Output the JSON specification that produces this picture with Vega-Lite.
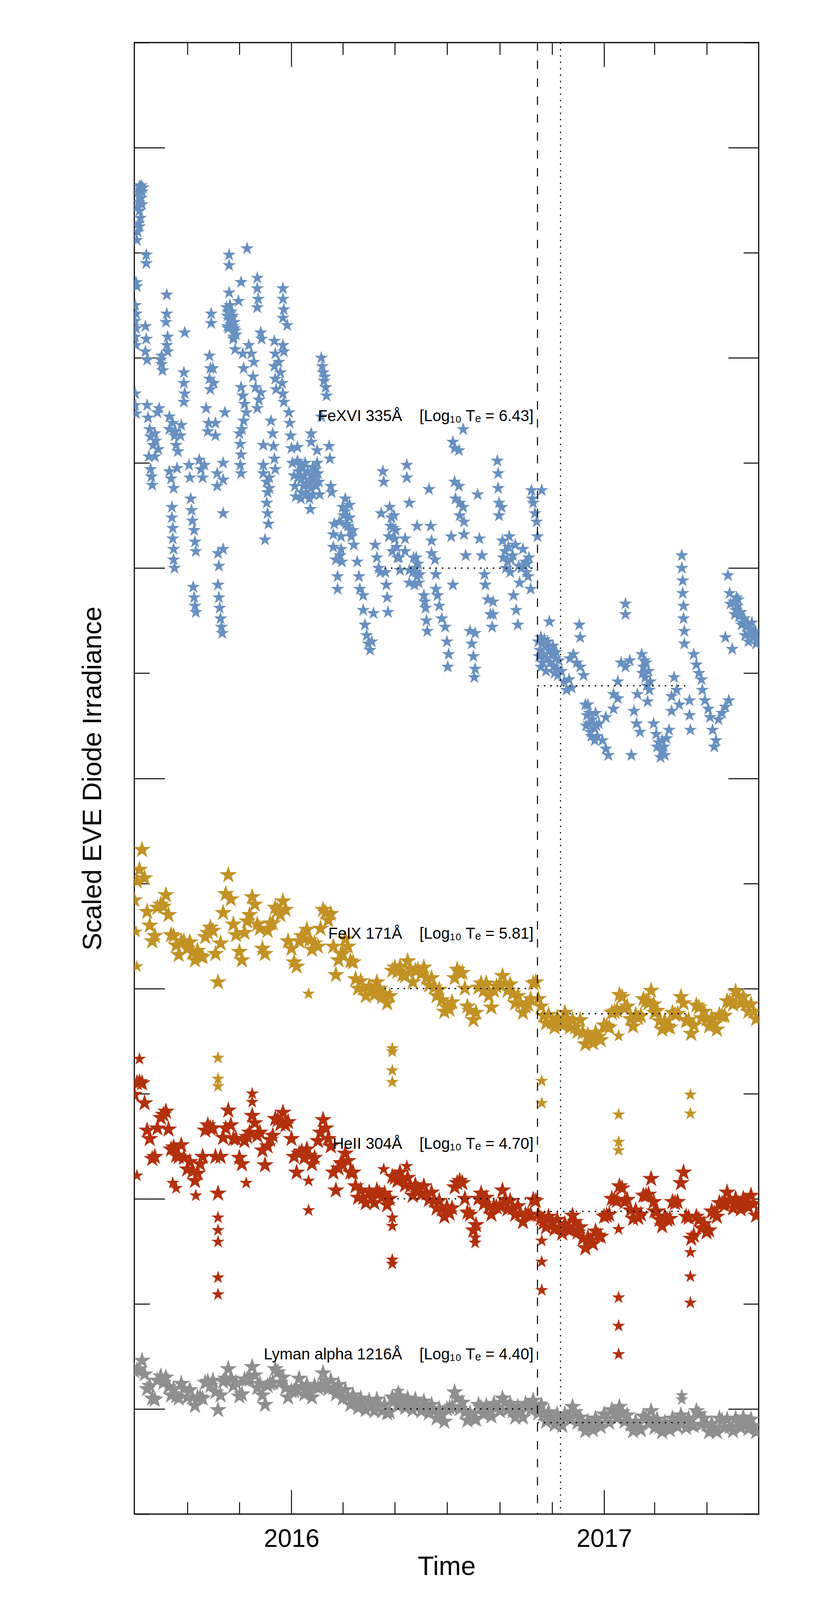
{
  "$schema": "https://vega.github.io/schema/vega-lite/v6.json",
  "width": 1599,
  "height": 3767,
  "autosize": {"type": "none"},
  "padding": {"left": 344, "top": 109, "right": 105, "bottom": 220},
  "background": "white",
  "config": {
    "font": "Liberation Sans",
    "view": {"stroke": "black", "strokeWidth": 2.9},
    "axis": {"domain": false, "grid": false, "labels": false, "tickColor": "black", "tickWidth": 2.4}
  },
  "datasets": {
    "fe16": [
      {"d":"2015-07-07","v":12.63},{"d":"2015-07-08","v":12.60},{"d":"2015-07-09","v":12.64},{"d":"2015-07-10","v":12.58},{"d":"2015-07-11","v":12.62},
      {"d":"2015-07-07","v":12.55},{"d":"2015-07-06","v":12.48},{"d":"2015-07-07","v":12.40},{"d":"2015-07-05","v":12.44},{"d":"2015-07-08","v":12.33},
      {"d":"2015-07-06","v":12.28},{"d":"2015-07-05","v":12.20},{"d":"2015-07-04","v":12.12},{"d":"2015-07-15","v":11.98},{"d":"2015-07-15","v":11.90},
      {"d":"2015-07-06","v":12.58},{"d":"2015-07-09","v":12.52},{"d":"2015-07-10","v":12.46},{"d":"2015-07-07","v":12.25},
      {"d":"2015-07-03","v":11.72},{"d":"2015-07-04","v":11.68},{"d":"2015-07-02","v":11.50},{"d":"2015-07-03","v":11.42},{"d":"2015-07-02","v":11.35},
      {"d":"2015-07-03","v":11.28},{"d":"2015-07-02","v":11.20},{"d":"2015-07-03","v":11.12},{"d":"2015-07-14","v":11.30},{"d":"2015-07-15","v":11.18},
      {"d":"2015-07-14","v":11.06},{"d":"2015-07-16","v":10.98},{"d":"2015-07-02","v":10.66},{"d":"2015-07-02","v":10.55},{"d":"2015-07-03","v":10.47},
      {"d":"2015-07-16","v":10.55},{"d":"2015-07-17","v":10.43},{"d":"2015-07-19","v":10.32},{"d":"2015-07-20","v":10.25},{"d":"2015-07-23","v":10.17},
      {"d":"2015-07-25","v":10.28},{"d":"2015-07-26","v":10.21},{"d":"2015-07-28","v":10.48},{"d":"2015-07-30","v":10.52},{"d":"2015-07-20","v":9.94},
      {"d":"2015-07-21","v":9.87},{"d":"2015-07-22","v":9.79},{"d":"2015-07-18","v":10.06},{"d":"2015-07-25","v":10.06},{"d":"2015-07-29","v":10.13},
      {"d":"2015-08-02","v":11.02},{"d":"2015-08-02","v":10.94},{"d":"2015-08-03","v":10.88},{"d":"2015-08-01","v":10.98},{"d":"2015-08-08","v":11.60},
      {"d":"2015-08-08","v":11.42},{"d":"2015-08-07","v":11.34},{"d":"2015-08-09","v":11.20},{"d":"2015-08-08","v":11.12},{"d":"2015-08-09","v":11.06},
      {"d":"2015-08-11","v":10.44},{"d":"2015-08-11","v":10.32},{"d":"2015-08-15","v":10.38},{"d":"2015-08-17","v":10.26},{"d":"2015-08-19","v":10.17},
      {"d":"2015-08-21","v":10.11},{"d":"2015-08-18","v":10.30},{"d":"2015-08-11","v":9.92},{"d":"2015-08-13","v":9.85},{"d":"2015-08-16","v":9.76},
      {"d":"2015-08-14","v":9.58},{"d":"2015-08-14","v":9.48},{"d":"2015-08-15","v":9.38},{"d":"2015-08-15","v":9.28},{"d":"2015-08-16","v":9.18},
      {"d":"2015-08-16","v":9.08},{"d":"2015-08-17","v":9.00},{"d":"2015-08-20","v":9.95},
      {"d":"2015-08-28","v":10.86},{"d":"2015-08-28","v":10.76},{"d":"2015-08-29","v":10.66},{"d":"2015-08-28","v":10.58},{"d":"2015-08-25","v":10.36},
      {"d":"2015-08-24","v":10.26},{"d":"2015-08-29","v":11.24},{"d":"2015-09-03","v":9.98},{"d":"2015-09-04","v":9.86},{"d":"2015-09-05","v":9.66},
      {"d":"2015-09-06","v":9.55},{"d":"2015-09-07","v":9.45},{"d":"2015-09-09","v":9.36},{"d":"2015-09-10","v":9.25},{"d":"2015-09-11","v":9.16},
      {"d":"2015-09-08","v":8.82},{"d":"2015-09-09","v":8.72},{"d":"2015-09-10","v":8.64},{"d":"2015-09-11","v":8.58},
      {"d":"2015-09-15","v":10.03},{"d":"2015-09-17","v":9.94},{"d":"2015-09-19","v":9.86},{"d":"2015-09-21","v":9.98},{"d":"2015-09-23","v":10.52},
      {"d":"2015-09-26","v":10.38},{"d":"2015-09-25","v":10.30},{"d":"2015-09-29","v":11.42},{"d":"2015-09-29","v":11.33},{"d":"2015-09-27","v":11.02},
      {"d":"2015-09-28","v":10.90},{"d":"2015-09-27","v":10.80},{"d":"2015-09-28","v":10.70},{"d":"2015-10-01","v":10.90},{"d":"2015-10-02","v":10.76},
      {"d":"2015-10-04","v":10.38},{"d":"2015-10-04","v":10.26},{"d":"2015-10-06","v":9.90},{"d":"2015-10-06","v":9.78},{"d":"2015-10-07","v":9.14},
      {"d":"2015-10-08","v":9.02},{"d":"2015-10-07","v":8.84},{"d":"2015-10-08","v":8.72},{"d":"2015-10-09","v":8.62},{"d":"2015-10-10","v":8.52},
      {"d":"2015-10-11","v":8.44},{"d":"2015-10-12","v":8.38},{"d":"2015-10-13","v":9.52},{"d":"2015-10-13","v":10.00},{"d":"2015-10-13","v":9.84},
      {"d":"2015-10-15","v":10.48},{"d":"2015-10-13","v":9.18},
      {"d":"2015-10-17","v":11.48},{"d":"2015-10-18","v":11.40},{"d":"2015-10-19","v":11.44},{"d":"2015-10-20","v":11.36},{"d":"2015-10-21","v":11.42},
      {"d":"2015-10-22","v":11.32},{"d":"2015-10-23","v":11.38},{"d":"2015-10-24","v":11.30},{"d":"2015-10-26","v":11.34},{"d":"2015-10-27","v":11.26},
      {"d":"2015-10-28","v":11.22},{"d":"2015-10-19","v":11.28},{"d":"2015-10-25","v":11.20},{"d":"2015-10-20","v":11.98},{"d":"2015-10-20","v":11.88},
      {"d":"2015-10-18","v":11.30},{"d":"2015-10-22","v":11.44},{"d":"2015-10-24","v":11.40},{"d":"2015-10-26","v":11.28},{"d":"2015-10-21","v":11.50},
      {"d":"2015-10-20","v":11.62},{"d":"2015-10-25","v":11.18},{"d":"2015-10-27","v":11.08},{"d":"2015-10-31","v":11.54},{"d":"2015-11-03","v":11.72},
      {"d":"2015-11-10","v":12.04},{"d":"2015-11-03","v":10.72},{"d":"2015-11-05","v":10.64},{"d":"2015-11-07","v":10.56},{"d":"2015-11-09","v":10.48},
      {"d":"2015-11-06","v":10.40},{"d":"2015-11-04","v":10.32},{"d":"2015-11-01","v":10.28},{"d":"2015-11-02","v":10.18},{"d":"2015-11-03","v":10.08},
      {"d":"2015-11-02","v":9.98},{"d":"2015-11-03","v":9.90},{"d":"2015-11-05","v":11.04},{"d":"2015-11-06","v":10.90},{"d":"2015-11-12","v":11.12},
      {"d":"2015-11-15","v":11.04},{"d":"2015-11-18","v":10.96},{"d":"2015-11-17","v":10.82},{"d":"2015-11-20","v":10.72},{"d":"2015-11-24","v":10.60},
      {"d":"2015-11-22","v":10.52},{"d":"2015-11-22","v":11.76},{"d":"2015-11-22","v":11.66},{"d":"2015-11-23","v":11.56},{"d":"2015-11-22","v":11.48},
      {"d":"2015-11-26","v":11.24},{"d":"2015-11-27","v":11.18},{"d":"2015-11-26","v":10.67},{"d":"2015-11-29","v":10.17},{"d":"2015-11-29","v":9.98},
      {"d":"2015-11-29","v":9.90},{"d":"2015-12-03","v":9.82},{"d":"2015-12-04","v":9.72},{"d":"2015-12-03","v":9.62},{"d":"2015-12-04","v":9.52},
      {"d":"2015-12-05","v":9.42},{"d":"2015-12-01","v":9.27},{"d":"2015-12-06","v":9.86},{"d":"2015-12-06","v":9.76},
      {"d":"2015-12-08","v":10.40},{"d":"2015-12-10","v":10.28},{"d":"2015-12-11","v":10.16},{"d":"2015-12-12","v":10.04},{"d":"2015-12-13","v":9.94},
      {"d":"2015-12-12","v":11.16},{"d":"2015-12-13","v":11.04},{"d":"2015-12-12","v":10.92},{"d":"2015-12-13","v":10.80},{"d":"2015-12-14","v":10.70},
      {"d":"2015-12-17","v":10.96},{"d":"2015-12-19","v":10.86},{"d":"2015-12-21","v":10.76},{"d":"2015-12-22","v":10.66},{"d":"2015-12-23","v":10.58},
      {"d":"2015-12-22","v":11.66},{"d":"2015-12-22","v":11.56},{"d":"2015-12-23","v":11.46},{"d":"2015-12-22","v":11.38},{"d":"2015-12-27","v":11.31},
      {"d":"2015-12-22","v":11.12},{"d":"2015-12-23","v":11.06},
      {"d":"2015-12-29","v":10.48},{"d":"2015-12-30","v":10.38},{"d":"2015-12-31","v":10.26},{"d":"2016-01-01","v":10.14},{"d":"2016-01-02","v":10.00},
      {"d":"2016-01-04","v":9.88},{"d":"2016-01-05","v":9.78},{"d":"2016-01-06","v":9.68},{"d":"2016-01-08","v":10.02},{"d":"2016-01-10","v":9.92},
      {"d":"2016-01-12","v":9.84},{"d":"2016-01-14","v":9.96},{"d":"2016-01-16","v":9.88},{"d":"2016-01-18","v":9.80},{"d":"2016-01-20","v":9.92},
      {"d":"2016-01-22","v":9.84},{"d":"2016-01-24","v":9.76},{"d":"2016-01-26","v":9.96},{"d":"2016-01-28","v":9.86},{"d":"2016-01-30","v":9.78},
      {"d":"2016-01-09","v":9.86},{"d":"2016-01-11","v":9.98},{"d":"2016-01-15","v":9.78},{"d":"2016-01-17","v":10.00},{"d":"2016-01-21","v":9.78},
      {"d":"2016-01-25","v":9.88},{"d":"2016-01-27","v":9.80},{"d":"2016-01-29","v":9.94},{"d":"2016-01-12","v":9.66},{"d":"2016-01-26","v":9.70},
      {"d":"2016-02-01","v":9.90},{"d":"2016-01-13","v":9.72},{"d":"2016-01-19","v":9.70},{"d":"2016-01-08","v":10.15},{"d":"2016-01-22","v":9.66},
      {"d":"2016-01-23","v":9.56},{"d":"2016-01-24","v":10.28},{"d":"2016-01-24","v":10.20},{"d":"2016-01-31","v":10.12},{"d":"2016-01-31","v":10.00},
      {"d":"2016-02-02","v":9.82},{"d":"2016-02-03","v":9.70},{"d":"2016-02-05","v":11.00},{"d":"2016-02-06","v":10.92},{"d":"2016-02-09","v":10.82},
      {"d":"2016-02-10","v":10.72},{"d":"2016-02-11","v":10.64},{"d":"2016-02-05","v":10.44},{"d":"2016-02-14","v":10.16},{"d":"2016-02-15","v":10.04},
      {"d":"2016-02-16","v":9.78},{"d":"2016-02-17","v":9.72},{"d":"2016-02-07","v":10.86},{"d":"2016-02-08","v":10.78},
      {"d":"2016-02-19","v":9.32},{"d":"2016-02-19","v":9.20},{"d":"2016-02-24","v":8.92},{"d":"2016-02-24","v":8.80},{"d":"2016-02-28","v":9.30},
      {"d":"2016-02-28","v":9.18},{"d":"2016-02-29","v":9.06},{"d":"2016-03-04","v":9.66},{"d":"2016-03-04","v":9.54},{"d":"2016-03-09","v":9.60},
      {"d":"2016-03-09","v":9.48},{"d":"2016-03-10","v":9.36},{"d":"2016-03-13","v":9.36},{"d":"2016-03-14","v":9.22},{"d":"2016-03-18","v":9.06},
      {"d":"2016-03-20","v":8.92},{"d":"2016-03-21","v":8.80},{"d":"2016-03-25","v":8.74},{"d":"2016-03-25","v":8.60},{"d":"2016-03-27","v":8.46},
      {"d":"2016-03-29","v":8.36},{"d":"2016-03-31","v":8.28},{"d":"2016-04-02","v":8.22},{"d":"2016-04-04","v":8.30},{"d":"2016-04-06","v":8.57},
      {"d":"2016-02-26","v":9.44},{"d":"2016-03-02","v":9.50},{"d":"2016-03-07","v":9.40},
      {"d":"2016-02-20","v":9.42},{"d":"2016-02-22","v":9.08},{"d":"2016-02-27","v":9.12},{"d":"2016-03-01","v":9.58},{"d":"2016-03-05","v":9.42},{"d":"2016-03-11","v":9.30},
      {"d":"2016-04-08","v":9.22},{"d":"2016-04-10","v":9.10},{"d":"2016-04-12","v":9.00},{"d":"2016-04-14","v":8.96},{"d":"2016-04-15","v":9.52},
      {"d":"2016-04-17","v":9.92},{"d":"2016-04-18","v":9.82},{"d":"2016-04-20","v":8.96},{"d":"2016-04-21","v":8.84},{"d":"2016-04-22","v":8.72},
      {"d":"2016-04-23","v":8.58},{"d":"2016-04-25","v":9.58},{"d":"2016-04-27","v":9.48},{"d":"2016-04-29","v":9.38},{"d":"2016-05-01","v":9.28},
      {"d":"2016-05-03","v":9.20},{"d":"2016-04-28","v":9.16},{"d":"2016-05-06","v":9.10},{"d":"2016-05-07","v":8.98},{"d":"2016-05-13","v":9.28},
      {"d":"2016-04-26","v":9.40},{"d":"2016-04-30","v":9.50},{"d":"2016-05-02","v":9.36},{"d":"2016-04-24","v":9.30},{"d":"2016-05-04","v":9.10},
      {"d":"2016-05-13","v":9.16},{"d":"2016-05-15","v":9.98},{"d":"2016-05-15","v":9.86},{"d":"2016-05-18","v":9.62},{"d":"2016-05-18","v":8.98},
      {"d":"2016-05-18","v":8.86},
      {"d":"2016-05-23","v":9.10},{"d":"2016-05-25","v":9.00},{"d":"2016-05-27","v":8.92},{"d":"2016-05-29","v":8.86},{"d":"2016-05-24","v":8.84},
      {"d":"2016-05-22","v":8.96},{"d":"2016-05-26","v":8.96},{"d":"2016-05-30","v":8.94},{"d":"2016-05-26","v":9.10},{"d":"2016-06-05","v":8.68},
      {"d":"2016-05-28","v":9.04},{"d":"2016-05-27","v":9.40},{"d":"2016-06-04","v":8.74},{"d":"2016-06-06","v":8.62},{"d":"2016-06-07","v":8.50},
      {"d":"2016-06-08","v":8.40},{"d":"2016-06-10","v":9.75},{"d":"2016-06-12","v":9.40},{"d":"2016-06-13","v":9.26},{"d":"2016-06-13","v":9.14},
      {"d":"2016-06-17","v":9.08},{"d":"2016-06-18","v":8.94},{"d":"2016-06-18","v":8.80},{"d":"2016-06-20","v":8.74},{"d":"2016-06-22","v":8.64},
      {"d":"2016-06-25","v":8.52},{"d":"2016-06-29","v":8.44},{"d":"2016-07-01","v":8.30},{"d":"2016-07-03","v":8.18},{"d":"2016-07-02","v":8.06},
      {"d":"2016-07-06","v":9.30},{"d":"2016-07-08","v":8.84},
      {"d":"2016-07-08","v":10.20},{"d":"2016-07-10","v":10.14},{"d":"2016-07-15","v":10.12},{"d":"2016-07-20","v":10.32},{"d":"2016-07-10","v":9.82},
      {"d":"2016-07-11","v":9.66},{"d":"2016-07-15","v":9.78},{"d":"2016-07-16","v":9.62},{"d":"2016-07-16","v":9.50},{"d":"2016-07-20","v":9.58},
      {"d":"2016-07-21","v":9.44},{"d":"2016-07-21","v":9.32},{"d":"2016-07-23","v":9.12},{"d":"2016-07-28","v":8.40},{"d":"2016-07-30","v":8.28},
      {"d":"2016-08-01","v":8.16},{"d":"2016-08-03","v":8.04},{"d":"2016-08-02","v":7.96},{"d":"2016-08-03","v":8.38},{"d":"2016-08-06","v":9.70},
      {"d":"2016-08-08","v":9.28},{"d":"2016-08-11","v":9.12},{"d":"2016-08-14","v":8.94},{"d":"2016-08-15","v":8.84},{"d":"2016-08-18","v":8.70},
      {"d":"2016-08-21","v":8.56},{"d":"2016-08-23","v":8.44},{"d":"2016-08-24","v":8.68},{"d":"2016-08-24","v":8.56},{"d":"2016-08-29","v":10.02},
      {"d":"2016-08-30","v":9.90},{"d":"2016-08-30","v":9.76},{"d":"2016-08-31","v":9.62},{"d":"2016-08-31","v":9.50},{"d":"2016-09-03","v":9.58},
      {"d":"2016-09-04","v":9.26},{"d":"2016-09-07","v":9.16},{"d":"2016-09-10","v":9.06},{"d":"2016-09-13","v":8.96},{"d":"2016-09-16","v":9.12},
      {"d":"2016-09-19","v":9.22},{"d":"2016-09-12","v":9.30},{"d":"2016-09-17","v":8.74},{"d":"2016-09-20","v":8.60},{"d":"2016-09-22","v":8.46},
      {"d":"2016-09-23","v":9.02},{"d":"2016-09-24","v":8.86},{"d":"2016-09-28","v":9.18},{"d":"2016-10-01","v":9.06},{"d":"2016-10-04","v":8.92},
      {"d":"2016-10-07","v":8.80},{"d":"2016-10-08","v":9.74},{"d":"2016-10-10","v":9.62},{"d":"2016-10-12","v":9.52},{"d":"2016-10-14","v":9.44},
      {"d":"2016-09-05","v":9.10},{"d":"2016-09-08","v":9.00},{"d":"2016-09-11","v":9.20},{"d":"2016-09-14","v":9.08},{"d":"2016-09-29","v":9.02},
      {"d":"2016-10-02","v":8.96},{"d":"2016-10-05","v":9.10},{"d":"2016-10-09","v":9.66},
      {"d":"2016-10-20","v":9.74},{"d":"2016-10-15","v":9.30},{"d":"2016-09-26","v":9.00},{"d":"2016-10-03","v":9.04},
      {"d":"2016-10-16","v":8.30},{"d":"2016-10-18","v":8.22},{"d":"2016-10-20","v":8.28},{"d":"2016-10-22","v":8.18},{"d":"2016-10-24","v":8.26},
      {"d":"2016-10-26","v":8.14},{"d":"2016-10-28","v":8.22},{"d":"2016-10-30","v":8.10},{"d":"2016-11-01","v":8.18},{"d":"2016-11-03","v":8.06},
      {"d":"2016-11-05","v":8.14},{"d":"2016-11-07","v":8.04},{"d":"2016-11-09","v":8.12},{"d":"2016-10-19","v":8.06},{"d":"2016-10-25","v":8.02},
      {"d":"2016-10-17","v":8.16},{"d":"2016-10-19","v":8.34},{"d":"2016-10-21","v":8.10},{"d":"2016-10-23","v":8.32},{"d":"2016-10-27","v":8.30},
      {"d":"2016-10-31","v":8.22},{"d":"2016-11-02","v":8.26},{"d":"2016-11-04","v":8.00},{"d":"2016-11-06","v":8.20},{"d":"2016-11-08","v":7.98},
      {"d":"2016-10-29","v":8.49},{"d":"2016-11-12","v":8.02},{"d":"2016-11-15","v":7.92},{"d":"2016-11-18","v":7.84},{"d":"2016-11-21","v":7.94},
      {"d":"2016-11-24","v":7.86},{"d":"2016-11-22","v":8.14},{"d":"2016-11-26","v":8.18},{"d":"2016-11-30","v":8.10},{"d":"2016-12-04","v":8.06},
      {"d":"2016-12-03","v":8.46},{"d":"2016-12-04","v":8.34},{"d":"2016-12-08","v":7.98},{"d":"2016-12-10","v":7.70},{"d":"2016-12-12","v":7.60},
      {"d":"2016-12-14","v":7.52},{"d":"2016-12-16","v":7.44},{"d":"2016-12-18","v":7.56},{"d":"2016-12-20","v":7.48},{"d":"2016-12-22","v":7.62},
      {"d":"2016-12-24","v":7.40},{"d":"2016-12-26","v":7.52},{"d":"2016-12-30","v":7.36},{"d":"2017-01-03","v":7.28},{"d":"2017-01-06","v":7.22},
      {"d":"2016-12-11","v":7.50},{"d":"2016-12-13","v":7.70},{"d":"2016-12-15","v":7.62},{"d":"2016-12-17","v":7.40},{"d":"2016-12-21","v":7.36},{"d":"2016-12-23","v":7.50},
      {"d":"2017-01-03","v":7.58},{"d":"2017-01-12","v":7.80},{"d":"2017-01-12","v":7.66},{"d":"2017-01-17","v":7.92},{"d":"2017-01-17","v":7.76},
      {"d":"2017-01-21","v":8.10},{"d":"2017-01-26","v":8.06},{"d":"2017-01-31","v":8.12},{"d":"2017-01-26","v":8.66},{"d":"2017-01-26","v":8.56},
      {"d":"2017-02-02","v":7.22},{"d":"2017-02-05","v":7.64},{"d":"2017-02-08","v":7.52},{"d":"2017-02-12","v":7.44},{"d":"2017-02-14","v":8.18},
      {"d":"2017-02-16","v":8.06},{"d":"2017-02-18","v":7.96},{"d":"2017-02-20","v":7.88},{"d":"2017-02-22","v":8.02},{"d":"2017-02-24","v":7.92},
      {"d":"2017-02-17","v":8.12},{"d":"2017-02-09","v":7.80},{"d":"2017-02-21","v":7.73},{"d":"2017-02-28","v":7.52},{"d":"2017-03-03","v":7.42},
      {"d":"2017-02-15","v":8.00},{"d":"2017-02-19","v":8.10},{"d":"2017-02-23","v":7.84},{"d":"2017-03-04","v":7.30},{"d":"2017-03-10","v":7.36},{"d":"2017-03-13","v":7.22},
      {"d":"2017-03-06","v":7.34},{"d":"2017-03-09","v":7.26},{"d":"2017-03-12","v":7.30},{"d":"2017-03-15","v":7.38},{"d":"2017-03-18","v":7.46},
      {"d":"2017-03-08","v":7.20},{"d":"2017-03-21","v":7.78},{"d":"2017-03-21","v":7.64},{"d":"2017-03-24","v":7.96},{"d":"2017-03-27","v":7.84},
      {"d":"2017-03-30","v":7.70},{"d":"2017-04-02","v":9.12},{"d":"2017-04-02","v":9.00},{"d":"2017-04-03","v":8.88},{"d":"2017-04-03","v":8.76},
      {"d":"2017-04-04","v":8.64},{"d":"2017-04-04","v":8.52},{"d":"2017-04-05","v":8.40},{"d":"2017-04-05","v":8.28},{"d":"2017-04-11","v":7.74},
      {"d":"2017-04-11","v":7.60},{"d":"2017-04-12","v":7.46},{"d":"2017-04-16","v":8.18},{"d":"2017-04-19","v":8.08},{"d":"2017-04-22","v":8.00},
      {"d":"2017-04-25","v":7.94},{"d":"2017-04-26","v":7.84},{"d":"2017-04-29","v":7.74},{"d":"2017-05-03","v":7.66},{"d":"2017-05-05","v":7.58},
      {"d":"2017-05-08","v":7.46},{"d":"2017-05-12","v":7.36},{"d":"2017-05-10","v":7.30},{"d":"2017-05-15","v":7.56},{"d":"2017-05-19","v":7.62},
      {"d":"2017-05-23","v":7.68},{"d":"2017-05-27","v":7.74},{"d":"2017-05-26","v":8.93},{"d":"2017-05-23","v":8.34},{"d":"2017-05-28","v":8.76},
      {"d":"2017-05-29","v":8.66},{"d":"2017-05-31","v":8.23},{"d":"2017-06-02","v":8.68},{"d":"2017-06-04","v":8.60},{"d":"2017-06-06","v":8.64},
      {"d":"2017-06-08","v":8.54},{"d":"2017-06-10","v":8.58},{"d":"2017-06-12","v":8.48},{"d":"2017-06-14","v":8.52},{"d":"2017-06-16","v":8.44},
      {"d":"2017-06-18","v":8.48},{"d":"2017-06-20","v":8.38},{"d":"2017-06-22","v":8.42},{"d":"2017-06-24","v":8.34},{"d":"2017-06-26","v":8.38},
      {"d":"2017-06-28","v":8.28},{"d":"2017-06-30","v":8.32},{"d":"2017-06-05","v":8.72},{"d":"2017-06-15","v":8.36},
      {"d":"2017-06-03","v":8.56},{"d":"2017-06-07","v":8.70},{"d":"2017-06-11","v":8.46},{"d":"2017-06-19","v":8.30},{"d":"2017-06-23","v":8.48},{"d":"2017-06-27","v":8.40}
    ],
    "dense": [
      {"d":"2015-07-01","a":5.84,"b":3.99,"c":1.36},{"d":"2015-07-04","a":6.02,"b":4.10,"c":1.37},{"d":"2015-07-07","a":6.13,"b":4.11,"c":1.38},{"d":"2015-07-10","a":6.32,"b":4.10,"c":1.46},{"d":"2015-07-13","a":6.05,"b":3.91,"c":1.33},
      {"d":"2015-07-16","a":5.73,"b":3.65,"c":1.19},{"d":"2015-07-19","a":5.60,"b":3.57,"c":1.22},{"d":"2015-07-22","a":5.45,"b":3.38,"c":1.10},{"d":"2015-07-25","a":5.50,"b":3.40,"c":1.09},{"d":"2015-07-28","a":5.77,"b":3.67,"c":1.27},
      {"d":"2015-08-01","a":5.80,"b":3.77,"c":1.31},{"d":"2015-08-04","a":5.78,"b":3.80,"c":1.25},{"d":"2015-08-07","a":5.89,"b":3.83,"c":1.30},{"d":"2015-08-10","a":5.70,"b":3.66,"c":1.21},{"d":"2015-08-13","a":5.51,"b":3.47,"c":1.13},
      {"d":"2015-08-16","a":5.50,"b":3.49,"c":1.19},{"d":"2015-08-19","a":5.41,"b":3.41,"c":1.12},{"d":"2015-08-22","a":5.32,"b":3.40,"c":1.10},{"d":"2015-08-25","a":5.45,"b":3.51,"c":1.24},{"d":"2015-08-28","a":5.45,"b":3.39,"c":1.19},
      {"d":"2015-09-01","a":5.38,"b":3.28,"c":1.11},{"d":"2015-09-04","a":5.44,"b":3.35,"c":1.18},{"d":"2015-09-07","a":5.34,"b":3.26,"c":1.11},{"d":"2015-09-10","a":5.27,"b":3.17,"c":1.03},{"d":"2015-09-13","a":5.36,"b":3.24,"c":1.11},
      {"d":"2015-09-16","a":5.31,"b":3.33,"c":1.11},{"d":"2015-09-19","a":5.30,"b":3.40,"c":1.10},{"d":"2015-09-22","a":5.49,"b":3.65,"c":1.25},{"d":"2015-09-25","a":5.53,"b":3.70,"c":1.26},{"d":"2015-09-28","a":5.58,"b":3.67,"c":1.22},
      {"d":"2015-10-01","a":5.55,"b":3.67,"c":1.27},{"d":"2015-10-04","a":5.33,"b":3.40,"c":1.16},{"d":"2015-10-07","a":5.06,"b":3.05,"c":0.99},{"d":"2015-10-10","a":5.43,"b":3.40,"c":1.13},{"d":"2015-10-13","a":5.72,"b":3.58,"c":1.26},
      {"d":"2015-10-16","a":5.90,"b":3.67,"c":1.29},{"d":"2015-10-19","a":6.08,"b":3.84,"c":1.38},{"d":"2015-10-22","a":5.85,"b":3.70,"c":1.29},{"d":"2015-10-25","a":5.61,"b":3.57,"c":1.22},{"d":"2015-10-28","a":5.51,"b":3.57,"c":1.25},
      {"d":"2015-11-01","a":5.35,"b":3.39,"c":1.12},{"d":"2015-11-04","a":5.27,"b":3.33,"c":1.14},{"d":"2015-11-07","a":5.53,"b":3.55,"c":1.28},{"d":"2015-11-10","a":5.64,"b":3.59,"c":1.28},{"d":"2015-11-13","a":5.70,"b":3.63,"c":1.28},
      {"d":"2015-11-16","a":5.87,"b":3.79,"c":1.40},{"d":"2015-11-19","a":5.80,"b":3.72,"c":1.32},{"d":"2015-11-22","a":5.61,"b":3.60,"c":1.20},{"d":"2015-11-25","a":5.57,"b":3.63,"c":1.24},{"d":"2015-11-28","a":5.38,"b":3.46,"c":1.13},
      {"d":"2015-12-01","a":5.33,"b":3.32,"c":1.04},{"d":"2015-12-04","a":5.55,"b":3.50,"c":1.22},{"d":"2015-12-07","a":5.62,"b":3.56,"c":1.24},{"d":"2015-12-10","a":5.62,"b":3.60,"c":1.25},{"d":"2015-12-13","a":5.77,"b":3.76,"c":1.38},
      {"d":"2015-12-16","a":5.74,"b":3.75,"c":1.35},{"d":"2015-12-19","a":5.70,"b":3.71,"c":1.25},{"d":"2015-12-22","a":5.83,"b":3.82,"c":1.30},{"d":"2015-12-25","a":5.75,"b":3.70,"c":1.20},{"d":"2015-12-28","a":5.45,"b":3.73,"c":1.11},
      {"d":"2016-01-01","a":5.38,"b":3.57,"c":1.17},{"d":"2016-01-04","a":5.25,"b":3.40,"c":1.17},{"d":"2016-01-07","a":5.21,"b":3.25,"c":1.18},{"d":"2016-01-10","a":5.45,"b":3.43,"c":1.29},{"d":"2016-01-13","a":5.50,"b":3.45,"c":1.21},
      {"d":"2016-01-16","a":5.47,"b":3.39,"c":1.14},{"d":"2016-01-19","a":5.56,"b":3.47,"c":1.23},{"d":"2016-01-22","a":5.46,"b":3.41,"c":1.17},{"d":"2016-01-25","a":5.37,"b":3.33,"c":1.11},{"d":"2016-01-28","a":5.43,"b":3.39,"c":1.22},
      {"d":"2016-02-01","a":5.40,"b":3.55,"c":1.20},{"d":"2016-02-04","a":5.57,"b":3.63,"c":1.21},{"d":"2016-02-07","a":5.75,"b":3.75,"c":1.34},{"d":"2016-02-10","a":5.72,"b":3.67,"c":1.27},{"d":"2016-02-13","a":5.65,"b":3.57,"c":1.19},
      {"d":"2016-02-16","a":5.71,"b":3.50,"c":1.27},{"d":"2016-02-19","a":5.40,"b":3.25,"c":1.20},{"d":"2016-02-22","a":5.13,"b":3.08,"c":1.14},{"d":"2016-02-25","a":5.27,"b":3.29,"c":1.23},{"d":"2016-02-28","a":5.33,"b":3.34,"c":1.17},
      {"d":"2016-03-01","a":5.33,"b":3.32,"c":1.10},{"d":"2016-03-04","a":5.47,"b":3.43,"c":1.18},{"d":"2016-03-07","a":5.40,"b":3.36,"c":1.11},{"d":"2016-03-10","a":5.26,"b":3.25,"c":1.04},{"d":"2016-03-13","a":5.25,"b":3.25,"c":1.13},
      {"d":"2016-03-16","a":5.09,"b":3.12,"c":1.07},{"d":"2016-03-19","a":5.00,"b":3.01,"c":1.01},{"d":"2016-03-22","a":5.07,"b":3.08,"c":1.10},{"d":"2016-03-25","a":5.00,"b":3.01,"c":1.04},{"d":"2016-03-28","a":4.93,"b":2.96,"c":0.99},
      {"d":"2016-04-01","a":5.02,"b":3.06,"c":1.08},{"d":"2016-04-04","a":4.98,"b":3.01,"c":1.03},{"d":"2016-04-07","a":4.94,"b":2.96,"c":0.98},{"d":"2016-04-10","a":5.06,"b":3.08,"c":1.09},{"d":"2016-04-13","a":5.00,"b":3.05,"c":1.04},
      {"d":"2016-04-16","a":4.92,"b":3.01,"c":0.98},{"d":"2016-04-19","a":4.95,"b":3.05,"c":1.04},{"d":"2016-04-22","a":4.86,"b":2.94,"c":0.96},{"d":"2016-04-25","a":4.93,"b":3.00,"c":0.97},{"d":"2016-04-28","a":5.17,"b":3.21,"c":1.11},
      {"d":"2016-05-01","a":5.20,"b":3.20,"c":1.08},{"d":"2016-05-04","a":5.16,"b":3.17,"c":1.03},{"d":"2016-05-07","a":5.21,"b":3.25,"c":1.12},{"d":"2016-05-10","a":5.13,"b":3.19,"c":1.07},{"d":"2016-05-13","a":5.12,"b":3.13,"c":1.01},
      {"d":"2016-05-16","a":5.26,"b":3.20,"c":1.10},{"d":"2016-05-19","a":5.19,"b":3.12,"c":1.05},{"d":"2016-05-22","a":5.06,"b":3.03,"c":0.99},{"d":"2016-05-25","a":5.17,"b":3.13,"c":1.09},{"d":"2016-05-28","a":5.18,"b":3.09,"c":1.03},
      {"d":"2016-06-01","a":5.14,"b":3.04,"c":0.98},{"d":"2016-06-04","a":5.20,"b":3.12,"c":1.07},{"d":"2016-06-07","a":5.10,"b":3.05,"c":1.02},{"d":"2016-06-10","a":5.03,"b":2.99,"c":0.96},{"d":"2016-06-13","a":5.10,"b":3.06,"c":1.04},
      {"d":"2016-06-16","a":5.01,"b":2.98,"c":0.98},{"d":"2016-06-19","a":4.93,"b":2.91,"c":0.91},{"d":"2016-06-22","a":4.99,"b":2.98,"c":1.00},{"d":"2016-06-25","a":4.89,"b":2.90,"c":0.94},{"d":"2016-06-28","a":4.78,"b":2.83,"c":0.88},
      {"d":"2016-07-01","a":4.82,"b":2.92,"c":1.00},{"d":"2016-07-04","a":4.80,"b":2.86,"c":1.01},{"d":"2016-07-07","a":4.87,"b":2.91,"c":1.02},{"d":"2016-07-10","a":5.10,"b":3.11,"c":1.16},{"d":"2016-07-13","a":5.18,"b":3.15,"c":1.10},
      {"d":"2016-07-16","a":5.15,"b":3.17,"c":1.00},{"d":"2016-07-19","a":5.15,"b":3.15,"c":1.06},{"d":"2016-07-22","a":5.00,"b":3.00,"c":0.97},{"d":"2016-07-25","a":4.83,"b":2.87,"c":0.89},{"d":"2016-07-28","a":4.79,"b":2.85,"c":0.96},
      {"d":"2016-08-01","a":4.70,"b":2.70,"c":0.91},{"d":"2016-08-04","a":4.77,"b":2.75,"c":0.90},{"d":"2016-08-07","a":5.01,"b":3.00,"c":1.04},{"d":"2016-08-10","a":5.05,"b":3.05,"c":1.01},{"d":"2016-08-13","a":4.98,"b":2.95,"c":0.95},
      {"d":"2016-08-16","a":5.05,"b":3.01,"c":1.03},{"d":"2016-08-19","a":4.93,"b":2.92,"c":0.97},{"d":"2016-08-22","a":4.82,"b":2.85,"c":0.93},{"d":"2016-08-25","a":4.98,"b":2.93,"c":1.05},{"d":"2016-08-28","a":5.02,"b":2.92,"c":1.01},
      {"d":"2016-09-01","a":5.04,"b":2.93,"c":0.98},{"d":"2016-09-04","a":5.12,"b":3.08,"c":1.10},{"d":"2016-09-07","a":5.05,"b":2.99,"c":1.06},{"d":"2016-09-10","a":4.98,"b":2.90,"c":0.99},{"d":"2016-09-13","a":5.04,"b":2.98,"c":1.05},
      {"d":"2016-09-16","a":4.95,"b":2.91,"c":0.98},{"d":"2016-09-19","a":4.86,"b":2.85,"c":0.92},{"d":"2016-09-22","a":4.93,"b":2.93,"c":1.02},{"d":"2016-09-25","a":4.86,"b":2.86,"c":0.97},{"d":"2016-09-28","a":4.77,"b":2.78,"c":0.92},
      {"d":"2016-10-01","a":4.83,"b":2.85,"c":1.05},{"d":"2016-10-04","a":4.85,"b":2.85,"c":1.02},{"d":"2016-10-07","a":4.90,"b":2.85,"c":0.99},{"d":"2016-10-10","a":5.05,"b":2.99,"c":1.08},{"d":"2016-10-13","a":5.06,"b":2.98,"c":1.02},
      {"d":"2016-10-16","a":4.90,"b":2.85,"c":0.96},{"d":"2016-10-19","a":4.83,"b":2.81,"c":1.03},{"d":"2016-10-22","a":4.74,"b":2.77,"c":0.95},{"d":"2016-10-25","a":4.67,"b":2.73,"c":0.88},{"d":"2016-10-28","a":4.75,"b":2.83,"c":0.97},
      {"d":"2016-11-01","a":4.68,"b":2.77,"c":0.91},{"d":"2016-11-04","a":4.63,"b":2.71,"c":0.85},{"d":"2016-11-07","a":4.72,"b":2.80,"c":0.95},{"d":"2016-11-10","a":4.68,"b":2.73,"c":0.89},{"d":"2016-11-13","a":4.65,"b":2.67,"c":0.84},
      {"d":"2016-11-16","a":4.77,"b":2.76,"c":0.95},{"d":"2016-11-19","a":4.71,"b":2.71,"c":0.92},{"d":"2016-11-22","a":4.63,"b":2.70,"c":0.90},{"d":"2016-11-25","a":4.70,"b":2.84,"c":1.02},{"d":"2016-11-28","a":4.63,"b":2.78,"c":0.97},
      {"d":"2016-12-01","a":4.59,"b":2.68,"c":0.87},{"d":"2016-12-04","a":4.70,"b":2.73,"c":0.92},{"d":"2016-12-07","a":4.58,"b":2.62,"c":0.85},{"d":"2016-12-10","a":4.47,"b":2.53,"c":0.79},{"d":"2016-12-13","a":4.56,"b":2.63,"c":0.88},
      {"d":"2016-12-16","a":4.52,"b":2.60,"c":0.83},{"d":"2016-12-19","a":4.48,"b":2.57,"c":0.80},{"d":"2016-12-22","a":4.58,"b":2.69,"c":0.91},{"d":"2016-12-25","a":4.54,"b":2.65,"c":0.87},{"d":"2016-12-28","a":4.51,"b":2.64,"c":0.83},
      {"d":"2017-01-01","a":4.65,"b":2.83,"c":0.95},{"d":"2017-01-04","a":4.64,"b":2.84,"c":0.91},{"d":"2017-01-07","a":4.63,"b":2.85,"c":0.87},{"d":"2017-01-10","a":4.77,"b":3.00,"c":0.99},{"d":"2017-01-13","a":4.78,"b":2.99,"c":0.95},
      {"d":"2017-01-16","a":4.79,"b":2.98,"c":0.91},{"d":"2017-01-19","a":4.94,"b":3.12,"c":1.02},{"d":"2017-01-22","a":4.92,"b":3.10,"c":0.97},{"d":"2017-01-25","a":4.81,"b":2.97,"c":0.88},{"d":"2017-01-28","a":4.83,"b":2.99,"c":0.94},
      {"d":"2017-02-01","a":4.71,"b":2.89,"c":0.85},{"d":"2017-02-04","a":4.64,"b":2.81,"c":0.79},{"d":"2017-02-07","a":4.75,"b":2.89,"c":0.88},{"d":"2017-02-10","a":4.72,"b":2.82,"c":0.82},{"d":"2017-02-13","a":4.74,"b":2.85,"c":0.80},
      {"d":"2017-02-16","a":4.90,"b":3.03,"c":0.93},{"d":"2017-02-19","a":4.88,"b":3.03,"c":0.91},{"d":"2017-02-22","a":4.86,"b":3.04,"c":0.87},{"d":"2017-02-25","a":4.98,"b":3.19,"c":0.98},{"d":"2017-02-28","a":4.85,"b":2.97,"c":0.89},
      {"d":"2017-03-01","a":4.77,"b":2.88,"c":0.82},{"d":"2017-03-04","a":4.79,"b":2.88,"c":0.90},{"d":"2017-03-07","a":4.69,"b":2.80,"c":0.83},{"d":"2017-03-10","a":4.61,"b":2.74,"c":0.78},{"d":"2017-03-13","a":4.69,"b":2.83,"c":0.87},
      {"d":"2017-03-16","a":4.64,"b":2.80,"c":0.83},{"d":"2017-03-19","a":4.63,"b":2.81,"c":0.80},{"d":"2017-03-22","a":4.77,"b":2.97,"c":0.91},{"d":"2017-03-25","a":4.75,"b":2.96,"c":0.87},{"d":"2017-03-28","a":4.76,"b":2.97,"c":0.83},
      {"d":"2017-04-01","a":4.92,"b":3.15,"c":0.94},{"d":"2017-04-04","a":4.86,"b":3.25,"c":0.89},{"d":"2017-04-07","a":4.69,"b":2.83,"c":0.82},{"d":"2017-04-10","a":4.70,"b":2.82,"c":0.91},{"d":"2017-04-13","a":4.57,"b":2.62,"c":0.85},
      {"d":"2017-04-16","a":4.65,"b":2.65,"c":0.84},{"d":"2017-04-19","a":4.84,"b":2.83,"c":0.98},{"d":"2017-04-22","a":4.82,"b":2.80,"c":0.95},{"d":"2017-04-25","a":4.72,"b":2.72,"c":0.85},{"d":"2017-04-28","a":4.78,"b":2.76,"c":0.91},
      {"d":"2017-05-01","a":4.71,"b":2.68,"c":0.85},{"d":"2017-05-04","a":4.64,"b":2.70,"c":0.78},{"d":"2017-05-07","a":4.72,"b":2.88,"c":0.86},{"d":"2017-05-10","a":4.66,"b":2.86,"c":0.80},{"d":"2017-05-13","a":4.61,"b":2.83,"c":0.78},
      {"d":"2017-05-16","a":4.75,"b":2.96,"c":0.91},{"d":"2017-05-19","a":4.74,"b":2.95,"c":0.89},{"d":"2017-05-22","a":4.74,"b":2.94,"c":0.82},{"d":"2017-05-25","a":4.88,"b":3.06,"c":0.90},{"d":"2017-05-28","a":4.87,"b":2.99,"c":0.83},
      {"d":"2017-06-01","a":4.85,"b":2.91,"c":0.79},{"d":"2017-06-04","a":4.97,"b":3.00,"c":0.91},{"d":"2017-06-07","a":4.93,"b":2.95,"c":0.87},{"d":"2017-06-10","a":4.86,"b":2.90,"c":0.82},{"d":"2017-06-13","a":4.92,"b":3.00,"c":0.92},
      {"d":"2017-06-16","a":4.85,"b":2.96,"c":0.87},{"d":"2017-06-19","a":4.78,"b":2.92,"c":0.81},{"d":"2017-06-22","a":4.85,"b":3.03,"c":0.90},{"d":"2017-06-25","a":4.78,"b":2.95,"c":0.84},{"d":"2017-06-28","a":4.71,"b":2.84,"c":0.78}
    ],
    "spikes": [
      {"d":"2015-07-03","a":5.54},{"d":"2015-07-04","a":5.21},{"d":"2016-01-21","a":4.95},{"d":"2015-10-07","a":4.34},{"d":"2015-10-07","a":4.14},
      {"d":"2015-10-07","a":4.07},{"d":"2016-04-28","a":4.43},{"d":"2016-04-28","a":4.40},{"d":"2016-04-28","a":4.22},{"d":"2016-04-28","a":4.11},
      {"d":"2016-10-20","a":4.12},{"d":"2016-10-20","a":3.91},{"d":"2017-01-18","a":4.55},{"d":"2017-01-18","a":3.80},{"d":"2017-01-18","a":3.54},
      {"d":"2017-01-18","a":3.46},{"d":"2017-04-12","a":3.99},{"d":"2017-04-12","a":3.81},
      {"d":"2015-07-07","b":4.33},{"d":"2015-07-04","b":3.22},{"d":"2015-08-15","b":3.15},{"d":"2015-08-19","b":3.10},{"d":"2015-09-11","b":3.03},
      {"d":"2015-10-07","b":2.82},{"d":"2015-10-07","b":2.70},{"d":"2015-10-07","b":2.59},{"d":"2015-10-07","b":2.25},{"d":"2015-10-07","b":2.09},
      {"d":"2015-11-09","b":3.15},{"d":"2015-11-16","b":4.00},{"d":"2015-11-16","b":3.92},{"d":"2016-01-21","b":3.17},{"d":"2016-01-21","b":2.89},
      {"d":"2016-04-18","b":3.28},{"d":"2016-04-28","b":2.82},{"d":"2016-04-28","b":2.74},{"d":"2016-04-28","b":2.42},{"d":"2016-04-28","b":2.38},
      {"d":"2016-05-15","b":3.31},{"d":"2016-08-03","b":2.63},{"d":"2016-08-03","b":2.58},{"d":"2016-10-20","b":2.60},{"d":"2016-10-20","b":2.40},
      {"d":"2016-10-20","b":2.13},{"d":"2017-01-18","b":2.71},{"d":"2017-01-18","b":2.06},{"d":"2017-01-18","b":1.79},{"d":"2017-01-18","b":1.52},
      {"d":"2017-04-12","b":2.49},{"d":"2017-04-12","b":2.26},{"d":"2017-04-12","b":2.01},
      {"d":"2016-05-05","c":1.17},{"d":"2017-04-02","c":1.13},{"d":"2017-04-02","c":1.09},{"d":"2016-10-20","c":1.05}
    ],
    "means": [
      {"d1":"2016-04-19","d2":"2016-10-15","v":9},{"d1":"2016-10-15","d2":"2017-04-12","v":7.88},
      {"d1":"2016-04-19","d2":"2016-10-15","v":5},{"d1":"2016-10-15","d2":"2017-04-12","v":4.76},
      {"d1":"2016-04-19","d2":"2016-10-15","v":3},{"d1":"2016-10-15","d2":"2017-04-12","v":2.88},
      {"d1":"2016-04-19","d2":"2016-10-15","v":1},{"d1":"2016-10-15","d2":"2017-04-12","v":0.87}
    ],
    "labels": [
      {"t":"FeXVI 335\u00c5\u00a0\u00a0\u00a0 [Log\u2081\u2080 T\u2091 = 6.43]","v":10.40},
      {"t":"FeIX 171\u00c5\u00a0\u00a0\u00a0 [Log\u2081\u2080 T\u2091 = 5.81]","v":5.476},
      {"t":"HeII 304\u00c5\u00a0\u00a0\u00a0 [Log\u2081\u2080 T\u2091 = 4.70]","v":3.474},
      {"t":"Lyman alpha 1216\u00c5\u00a0\u00a0\u00a0 [Log\u2081\u2080 T\u2091 = 4.40]","v":1.473}
    ]
  },
  "layer": [
    {
      "data": {"name": "fe16"},
      "mark": {"type": "point", "shape": "M0,-1L0.225,-0.309L0.951,-0.309L0.363,0.118L0.588,0.809L0,0.382L-0.588,0.809L-0.363,0.118L-0.951,-0.309L-0.225,-0.309Z", "filled": true, "opacity": 1, "strokeWidth": 0, "color": "#6890c0", "clip": true},
      "encoding": {
        "x": {"field": "d", "type": "temporal",
          "scale": {"domain": [{"year": 2015, "month": 7, "date": 1}, {"year": 2017, "month": 7, "date": 1}]},
          "axis": {"orient": "bottom", "values": [{"year": 2016, "month": 1, "date": 1}, {"year": 2017, "month": 1, "date": 1}], "format": "%Y", "labels": true, "ticks": false, "tickSize": 0, "labelPadding": 32, "labelFontSize": 64, "labelColor": "black", "labelFont": "Liberation Sans", "labelFlush": false, "title": "Time", "titleFontSize": 68, "titleFontWeight": "normal", "titleColor": "black", "titleFont": "Liberation Sans", "titleBaseline": "alphabetic", "titleY": 155}},
        "y": {"field": "v", "type": "quantitative",
          "scale": {"domain": [0, 14], "nice": false, "zero": false},
          "axis": {"orient": "left", "values": [1, 3, 5, 7, 9, 11, 13], "tickSize": -78, "title": "Scaled EVE Diode Irradiance", "titleFontSize": 68, "titleFontWeight": "normal", "titleColor": "black", "titleFont": "Liberation Sans", "titleBaseline": "alphabetic", "titleX": -86}},
        "size": {"value": 1300}
      }
    },
    {
      "data": {"name": "dense"},
      "mark": {"type": "point", "shape": "M0,-1L0.225,-0.309L0.951,-0.309L0.363,0.118L0.588,0.809L0,0.382L-0.588,0.809L-0.363,0.118L-0.951,-0.309L-0.225,-0.309Z", "filled": true, "opacity": 1, "strokeWidth": 0, "color": "#c29225", "clip": true},
      "encoding": {
        "x": {"field": "d", "type": "temporal",
          "axis": {"orient": "bottom", "values": [{"year": 2016, "month": 1, "date": 1}, {"year": 2017, "month": 1, "date": 1}], "tickSize": -62, "title": null}},
        "y": {"field": "a", "type": "quantitative",
          "axis": {"orient": "left", "values": [0, 2, 4, 6, 8, 10, 12, 14], "tickSize": -39, "title": null}},
        "size": {"value": 2200}
      }
    },
    {
      "data": {"name": "dense"},
      "mark": {"type": "point", "shape": "M0,-1L0.225,-0.309L0.951,-0.309L0.363,0.118L0.588,0.809L0,0.382L-0.588,0.809L-0.363,0.118L-0.951,-0.309L-0.225,-0.309Z", "filled": true, "opacity": 1, "strokeWidth": 0, "color": "#b3300c", "clip": true},
      "encoding": {
        "x": {"field": "d", "type": "temporal",
          "axis": {"orient": "bottom", "values": [{"year": 2015, "month": 9, "date": 1}, {"year": 2015, "month": 11, "date": 1}, {"year": 2016, "month": 3, "date": 1}, {"year": 2016, "month": 5, "date": 1}, {"year": 2016, "month": 7, "date": 1}, {"year": 2016, "month": 9, "date": 1}, {"year": 2016, "month": 11, "date": 1}, {"year": 2017, "month": 3, "date": 1}, {"year": 2017, "month": 5, "date": 1}], "tickSize": -31, "title": null}},
        "y": {"field": "b", "type": "quantitative",
          "axis": {"orient": "right", "values": [1, 3, 5, 7, 9, 11, 13], "tickSize": -78, "title": null}},
        "size": {"value": 2200}
      }
    },
    {
      "data": {"name": "dense"},
      "mark": {"type": "point", "shape": "M0,-1L0.225,-0.309L0.951,-0.309L0.363,0.118L0.588,0.809L0,0.382L-0.588,0.809L-0.363,0.118L-0.951,-0.309L-0.225,-0.309Z", "filled": true, "opacity": 1, "strokeWidth": 0, "color": "#8f8f8f", "clip": true},
      "encoding": {
        "x": {"field": "d", "type": "temporal",
          "axis": {"orient": "top", "values": [{"year": 2016, "month": 1, "date": 1}, {"year": 2017, "month": 1, "date": 1}], "tickSize": -62, "title": null}},
        "y": {"field": "c", "type": "quantitative",
          "axis": {"orient": "right", "values": [0, 2, 4, 6, 8, 10, 12, 14], "tickSize": -39, "title": null}},
        "size": {"value": 2200}
      }
    },
    {
      "data": {"name": "spikes"},
      "mark": {"type": "point", "shape": "M0,-1L0.225,-0.309L0.951,-0.309L0.363,0.118L0.588,0.809L0,0.382L-0.588,0.809L-0.363,0.118L-0.951,-0.309L-0.225,-0.309Z", "filled": true, "opacity": 1, "strokeWidth": 0, "color": "#c29225", "clip": true},
      "encoding": {
        "x": {"field": "d", "type": "temporal", "axis": null},
        "y": {"field": "a", "type": "quantitative", "axis": null},
        "size": {"value": 1250}
      }
    },
    {
      "data": {"name": "spikes"},
      "mark": {"type": "point", "shape": "M0,-1L0.225,-0.309L0.951,-0.309L0.363,0.118L0.588,0.809L0,0.382L-0.588,0.809L-0.363,0.118L-0.951,-0.309L-0.225,-0.309Z", "filled": true, "opacity": 1, "strokeWidth": 0, "color": "#b3300c", "clip": true},
      "encoding": {
        "x": {"field": "d", "type": "temporal", "axis": null},
        "y": {"field": "b", "type": "quantitative", "axis": null},
        "size": {"value": 1250}
      }
    },
    {
      "data": {"name": "spikes"},
      "mark": {"type": "point", "shape": "M0,-1L0.225,-0.309L0.951,-0.309L0.363,0.118L0.588,0.809L0,0.382L-0.588,0.809L-0.363,0.118L-0.951,-0.309L-0.225,-0.309Z", "filled": true, "opacity": 1, "strokeWidth": 0, "color": "#8f8f8f", "clip": true},
      "encoding": {
        "x": {"field": "d", "type": "temporal", "axis": null},
        "y": {"field": "c", "type": "quantitative", "axis": null},
        "size": {"value": 1250}
      }
    },
    {
      "data": {"name": "means"},
      "mark": {"type": "rule", "color": "black", "strokeWidth": 3.2, "strokeDash": [3.9, 12.4]},
      "encoding": {
        "x": {"field": "d1", "type": "temporal",
          "axis": {"orient": "top", "values": [{"year": 2015, "month": 9, "date": 1}, {"year": 2015, "month": 11, "date": 1}, {"year": 2016, "month": 3, "date": 1}, {"year": 2016, "month": 5, "date": 1}, {"year": 2016, "month": 7, "date": 1}, {"year": 2016, "month": 9, "date": 1}, {"year": 2016, "month": 11, "date": 1}, {"year": 2017, "month": 3, "date": 1}, {"year": 2017, "month": 5, "date": 1}], "tickSize": -31, "title": null}},
        "x2": {"field": "d2"},
        "y": {"field": "v", "type": "quantitative", "axis": null}
      }
    },
    {
      "data": {"values": [{"d": "2016-10-15"}]},
      "mark": {"type": "rule", "color": "black", "strokeWidth": 2.6, "strokeDash": [21.5, 24.4]},
      "encoding": {
        "x": {"field": "d", "type": "temporal", "axis": null}
      }
    },
    {
      "data": {"values": [{"d": "2016-11-11"}]},
      "mark": {"type": "rule", "color": "black", "strokeWidth": 2.9, "strokeDash": [3.4, 12.9]},
      "encoding": {
        "x": {"field": "d", "type": "temporal", "axis": null}
      }
    },
    {
      "data": {"name": "labels"},
      "mark": {"type": "text", "align": "right", "baseline": "alphabetic", "dx": -10, "fontSize": 40, "font": "Liberation Sans", "color": "black"},
      "encoding": {
        "x": {"datum": {"year": 2016, "month": 10, "date": 15}, "type": "temporal", "axis": null},
        "y": {"field": "v", "type": "quantitative", "axis": null},
        "text": {"field": "t"}
      }
    }
  ],
  "resolve": {"axis": {"x": "independent", "y": "independent"}}
}
